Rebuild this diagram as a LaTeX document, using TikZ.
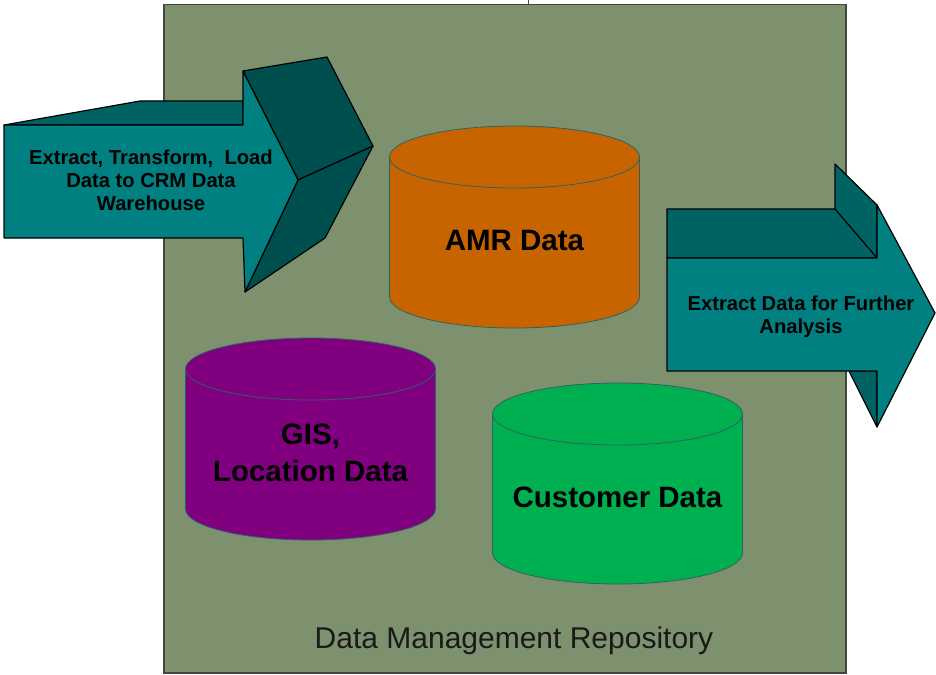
\documentclass[tikz,border=0pt]{standalone}
\usepackage{fontspec}
\setmainfont{Liberation Sans}
\definecolor{boxfill}{HTML}{7E916E}
\definecolor{boxline}{HTML}{404840}
\definecolor{tealfront}{HTML}{008080}
\definecolor{tealdark}{HTML}{006363}
\definecolor{tealdarker}{HTML}{004F4F}
\definecolor{amrcol}{HTML}{C86400}
\definecolor{giscol}{HTML}{800080}
\definecolor{custcol}{HTML}{00B050}
\definecolor{cylline}{HTML}{2E6262}
\newcommand\dbcyl[4]{%
  \filldraw[fill=#4, cylstroke] (#1,#3) ellipse [x radius=125, y radius=31];
  \fill[#4] ({#1-125},#2) rectangle ({#1+125},#3);
  \draw[cylstroke] ({#1-125},#2) -- ({#1-125},#3) ({#1+125},#2) -- ({#1+125},#3);
  \filldraw[fill=#4, cylstroke] (#1,#2) ellipse [x radius=125, y radius=31];
}
\begin{document}
\begin{tikzpicture}[x=1pt,y=-1pt,
  face/.style={draw=black, line width=1.2pt, line join=round},
  cylstroke/.style={draw=cylline, line width=0.8pt},
  arrlbl/.style={font=\fontsize{20.2}{23}\selectfont\bfseries, align=center, inner sep=0pt, text=black},
  cyllbl/.style={font=\fontsize{29.5}{37}\selectfont\bfseries, align=center, inner sep=0pt, text=black}]
\useasboundingbox (0,0) rectangle (936,674);
\fill[white] (0,0) rectangle (936,674);

% repository box
\node[draw=boxline, fill=boxfill, line width=1.5pt, minimum width=682, minimum height=668, anchor=north west, inner sep=0pt] (repo) at (163,4) {};
\coordinate (tick) at (528,0);
\draw[boxline, line width=1pt] (tick) -- (tick |- repo.north);
\node[font=\fontsize{30}{32}\selectfont, inner sep=0pt, anchor=base, text=black!90] (repolbl) at (514,648) {Data Management Repository};

% cylinders
\dbcyl{514.5}{157}{297}{amrcol}
\node[cyllbl, anchor=base] (amr) at (514.5,250) {AMR Data};
\dbcyl{310.5}{369}{509}{giscol}
\node[cyllbl] (gis) at (310.5,453) {GIS,\\Location Data};
\dbcyl{617.5}{414}{553}{custcol}
\node[cyllbl, anchor=base] (cust) at (617.5,507) {Customer Data};

% left 3D arrow
\filldraw[face, fill=tealdark] (4,125) -- (140,101) -- (243,101) -- (243,125) -- cycle;
\filldraw[face, fill=tealdarker] (243,71) -- (327,57) -- (373,146) -- (298,180) -- cycle;
\filldraw[face, fill=tealdarker] (298,180) -- (373,146) -- (325,238) -- (245,292) -- cycle;
\filldraw[face, fill=tealfront] (4,125) -- (243,125) -- (243,71) -- (298,180) -- (245,292) -- (243,238) -- (4,238) -- cycle;
\node[arrlbl] (etl) at (151,180) {Extract, Transform,\ \ Load\\Data to CRM Data\\Warehouse};

% right 3D arrow
\filldraw[face, fill=tealdark] (667,209) -- (835,209) -- (835,164) -- (877,205) -- (877,258) -- (667,258) -- cycle;
\draw[face] (835,209) -- (877,258);
\filldraw[face, fill=tealdark] (849,371) -- (877,371) -- (877,427) -- cycle;
\filldraw[face, fill=tealfront] (667,258) -- (877,258) -- (877,205) -- (935,313) -- (877,427) -- (877,371) -- (667,371) -- cycle;
\node[arrlbl] (extract) at (801,317) {Extract Data for Further\\Analysis};
\end{tikzpicture}
\end{document}
